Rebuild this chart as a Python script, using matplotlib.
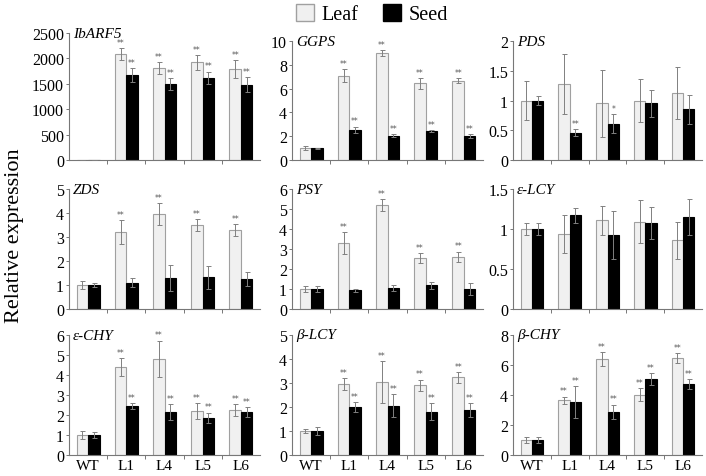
import matplotlib
matplotlib.use('Agg')
from matplotlib import pyplot as plt
from matplotlib.patches import Patch
import numpy as np

plt.rcParams['font.family'] = 'serif'
plt.rcParams['font.serif'] = ['Liberation Serif', 'DejaVu Serif']

lines = ['WT', 'L1', 'L4', 'L5', 'L6']

ibarf5_leaf = [1, 2087, 1811, 1923, 1791]
ibarf5_leaf_err = [0, 110, 110, 145, 175]
ibarf5_seed = [1, 1673, 1496, 1621, 1483]
ibarf5_seed_err = [0, 130, 110, 120, 145]

ggps_leaf = [1.0, 7.1, 9.0, 6.45, 6.65]
ggps_leaf_err = [0.15, 0.55, 0.25, 0.45, 0.2]
ggps_seed = [1.0, 2.55, 2.05, 2.45, 2.0]
ggps_seed_err = [0.05, 0.25, 0.1, 0.08, 0.15]

pds_leaf = [1.0, 1.28, 0.95, 1.0, 1.13]
pds_leaf_err = [0.33, 0.5, 0.57, 0.36, 0.44]
pds_seed = [1.0, 0.46, 0.61, 0.95, 0.85]
pds_seed_err = [0.08, 0.06, 0.16, 0.22, 0.25]

zds_leaf = [1.0, 3.2, 3.95, 3.5, 3.3]
zds_leaf_err = [0.15, 0.5, 0.45, 0.25, 0.25]
zds_seed = [1.0, 1.1, 1.3, 1.32, 1.24]
zds_seed_err = [0.08, 0.18, 0.54, 0.48, 0.3]

psy_leaf = [1.0, 3.3, 5.2, 2.55, 2.6]
psy_leaf_err = [0.15, 0.53, 0.3, 0.25, 0.27]
psy_seed = [1.0, 0.93, 1.05, 1.18, 1.0]
psy_seed_err = [0.15, 0.07, 0.13, 0.18, 0.28]

elcy_leaf = [1.0, 0.94, 1.11, 1.09, 0.86]
elcy_leaf_err = [0.08, 0.24, 0.18, 0.27, 0.23]
elcy_seed = [1.0, 1.17, 0.93, 1.07, 1.15]
elcy_seed_err = [0.07, 0.09, 0.3, 0.2, 0.22]

echy_leaf = [1.0, 4.4, 4.8, 2.2, 2.25]
echy_leaf_err = [0.18, 0.45, 0.92, 0.4, 0.28]
echy_seed = [1.0, 2.45, 2.15, 1.85, 2.15]
echy_seed_err = [0.13, 0.15, 0.4, 0.27, 0.25]

blcy_leaf = [1.0, 2.95, 3.03, 2.9, 3.23]
blcy_leaf_err = [0.08, 0.25, 0.88, 0.24, 0.23]
blcy_seed = [1.0, 2.0, 2.05, 1.8, 1.88]
blcy_seed_err = [0.15, 0.2, 0.48, 0.36, 0.28]

bchy_leaf = [1.0, 3.65, 6.38, 4.02, 6.46]
bchy_leaf_err = [0.18, 0.25, 0.46, 0.44, 0.33]
bchy_seed = [1.0, 3.55, 2.87, 5.08, 4.74]
bchy_seed_err = [0.18, 1.05, 0.49, 0.38, 0.33]

all_sig = ['', '**', '**', '**', '**']
none_sig = ['', '', '', '', '']

panels = [
    ('IbARF5', ibarf5_leaf, ibarf5_leaf_err, ibarf5_seed, ibarf5_seed_err, all_sig, all_sig, 2500, 500),
    ('GGPS', ggps_leaf, ggps_leaf_err, ggps_seed, ggps_seed_err, all_sig, all_sig, 10, 2),
    ('PDS', pds_leaf, pds_leaf_err, pds_seed, pds_seed_err, none_sig, ['', '**', '*', '', ''], 2, 0.5),
    ('ZDS', zds_leaf, zds_leaf_err, zds_seed, zds_seed_err, all_sig, none_sig, 5, 1),
    ('PSY', psy_leaf, psy_leaf_err, psy_seed, psy_seed_err, all_sig, none_sig, 6, 1),
    ('ε-LCY', elcy_leaf, elcy_leaf_err, elcy_seed, elcy_seed_err, none_sig, none_sig, 1.5, 0.5),
    ('ε-CHY', echy_leaf, echy_leaf_err, echy_seed, echy_seed_err, all_sig, all_sig, 6, 1),
    ('β-LCY', blcy_leaf, blcy_leaf_err, blcy_seed, blcy_seed_err, all_sig, all_sig, 5, 1),
    ('β-CHY', bchy_leaf, bchy_leaf_err, bchy_seed, bchy_seed_err, all_sig, all_sig, 8, 2),
]

W, H = 706, 477
fig = plt.figure(figsize=(W / 100, H / 100), dpi=100)

cols = [(69, 260), (292, 483), (513, 702)]
rows = [(42, 161), (190, 310), (336, 456)]

leaf_fc = '#f0f0f0'
leaf_ec = '#a0a0a0'
axis_c = '#777777'
err_c = '#808080'
bw = 0.3

for i, (name, lf, lfe, sd, sde, lsig, ssig, ymax, ystep) in enumerate(panels):
    r, c = divmod(i, 3)
    x0, x1 = cols[c]
    top, bot = rows[r]
    if i == 0:
        top = 34
    ax = fig.add_axes([x0 / W, 1 - bot / H, (x1 - x0) / W, (bot - top) / H])
    x = np.arange(len(lines))
    ax.bar(x - bw / 2, lf, bw, color=leaf_fc, edgecolor=leaf_ec, linewidth=0.8, zorder=2)
    ax.bar(x + bw / 2, sd, bw, color='black', edgecolor='black', linewidth=0.8, zorder=2)
    ax.errorbar(x - bw / 2, lf, yerr=lfe, fmt='none', ecolor=err_c, elinewidth=0.7,
                capsize=1.8, capthick=0.7, zorder=3)
    ax.errorbar(x + bw / 2, sd, yerr=sde, fmt='none', ecolor=err_c, elinewidth=0.7,
                capsize=1.8, capthick=0.7, zorder=3)
    off = ymax * 0.01
    for j in range(len(lines)):
        if lsig[j]:
            ax.text(x[j] - bw / 2, lf[j] + lfe[j] + off, lsig[j], ha='center', va='bottom',
                    fontsize=5.5, color='#555555', family='DejaVu Sans')
        if ssig[j]:
            ax.text(x[j] + bw / 2, sd[j] + sde[j] + off, ssig[j], ha='center', va='bottom',
                    fontsize=5.5, color='#555555', family='DejaVu Sans')
    ax.set_xlim(-0.5, len(lines) - 0.5)
    ax.set_ylim(0, ymax)
    ticks = np.arange(0, ymax + ystep / 2, ystep)
    ax.set_yticks(ticks)
    ax.set_yticklabels(['%g' % v for v in ticks], fontsize=11.5)
    ax.set_xticks(x)
    ax.set_xticks(np.arange(0.5, len(lines) - 0.5), minor=True)
    if r == 2:
        ax.set_xticklabels(lines, fontsize=11)
    else:
        ax.set_xticklabels([])
    ax.tick_params(axis='x', which='major', length=0, pad=3)
    ax.tick_params(axis='x', which='minor', length=3, color=axis_c, width=0.7)
    ax.tick_params(axis='y', length=2.5, color=axis_c, width=0.7, pad=1)
    for s in ['top', 'right']:
        ax.spines[s].set_visible(False)
    for s in ['left', 'bottom']:
        ax.spines[s].set_color(axis_c)
        ax.spines[s].set_linewidth(0.8)
    ax.text(0.02, 1.0, name, transform=ax.transAxes, ha='left', va='center',
            fontsize=11, style='italic')

fig.text(15 / W, 1 - 236 / H, 'Relative expression', rotation=90, ha='center', va='center',
         fontsize=16)

handles = [Patch(facecolor=leaf_fc, edgecolor=leaf_ec, label='Leaf'),
           Patch(facecolor='black', edgecolor='black', label='Seed')]
fig.legend(handles=handles, loc='center', bbox_to_anchor=(372 / W, 1 - 15 / H), ncol=2,
           frameon=False, fontsize=14.5, handlelength=0.9, handleheight=0.9,
           handletextpad=0.4, columnspacing=1.2, borderpad=0)

fig.savefig('out.png', dpi=100)
